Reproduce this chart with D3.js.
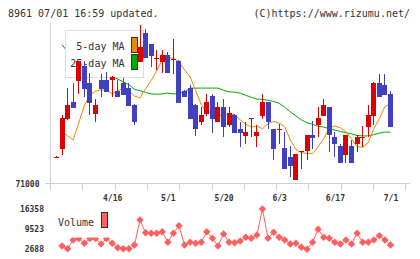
<!DOCTYPE html>
<html>
<head>
<meta charset="utf-8">
<script src="https://cdn.jsdelivr.net/npm/d3@7/dist/d3.min.js"></script>
<style>
  html, body { margin: 0; padding: 0; background: #fff; }
</style>
</head>
<body>
<div id="chart"></div>
<script>
// trading days shown on the chart
const dates = ["4/2","4/3","4/6","4/7","4/8","4/9","4/10","4/13","4/14","4/15",
  "4/16","4/17","4/20","4/21","4/22","4/23","4/24","4/27","4/28","4/30",
  "5/1","5/7","5/8","5/11","5/12","5/13","5/14","5/15","5/18","5/19",
  "5/20","5/21","5/22","5/25","5/26","5/27","5/28","5/29","6/1","6/2",
  "6/3","6/4","6/5","6/8","6/9","6/10","6/11","6/12","6/15","6/16",
  "6/17","6/18","6/19","6/22","6/23","6/24","6/25","6/26","6/29","6/30","7/1"]

const opens = [71665,71875,72625,73050,73570,73940,73525,72740,73590,73590,
  73585,73320,73510,73385,72970,74050,74775,74490,74130,74050,
  74220,74110,74070,73320,73390,72970,72550,72740,73190,72550,
  72910,72470,72720,72370,72200,72620,72200,72700,73040,72360,
  72360,71890,71675,71100,71805,71810,72210,72475,72700,72910,
  72160,71940,71725,71940,72000,72155,72420,72700,73525,73470,73240]
const highs = [71680,72720,73385,73525,74070,74075,73760,73120,73740,73790,
  73680,73580,73640,73520,72980,74975,74860,74500,74340,74340,
  74285,74620,74080,73330,73470,72980,72910,73240,73240,73035,
  73110,72910,72730,72550,72550,72630,72470,73240,73050,72370,
  72485,72285,71940,71750,71815,72215,72560,72910,73120,72920,
  72285,72000,72220,72090,72220,72440,72970,73535,73740,73740,73320]
const lows = [71660,71720,72590,72890,73240,73175,72720,72550,73170,73290,
  73175,73170,73210,72940,72470,74040,74130,73925,73840,73775,
  73770,73735,73020,73170,72620,72190,72470,72690,72275,72540,
  72160,72425,72270,71925,71990,72160,71925,72610,72360,71590,
  71990,71370,71175,71090,71375,71590,71875,72160,72690,71800,
  71660,71520,71525,71520,71800,71920,72175,72460,73170,73210,72410]
const closes = [71670,72640,72970,72900,74060,73370,73025,72970,73370,73300,
  73670,73175,73220,72950,72550,74425,74135,74200,74140,74220,
  73775,74120,73025,73175,72625,72360,72720,73040,72625,72910,
  72425,72760,72275,72275,72285,72630,72285,73040,72550,71875,
  72370,71375,71450,71740,71810,72210,72140,72640,72970,72210,
  72000,71525,72210,71525,72175,72160,72720,73525,73175,73220,72420]

// moving averages (5-day, 25-day)
const ma5 = [null,72290,72190,72090,72520,72950,73220,73305,73340,73330,
  73240,73320,73380,73320,73190,73140,73370,73570,73820,74090,
  74155,74130,74040,73840,73670,73320,72970,72790,72740,72705,
  72705,72740,72720,72590,72480,72410,72440,72370,72490,72550,
  72510,72420,72090,71855,71770,71755,71740,71920,72120,72390,
  72440,72390,72290,72120,71920,71905,72020,72370,72620,72920,73005]
const ma25 = [null,74470,74290,74170,74070,73990,73920,73840,73790,73740,
  73680,73610,73540,73470,73355,73320,73275,73240,73230,73240,
  73260,73240,73250,73290,73385,73385,73385,73385,73385,73385,
  73330,73290,73285,73260,73205,73155,73110,73105,73080,73050,
  73005,72905,72790,72690,72590,72520,72480,72430,72410,72370,
  72335,72300,72270,72240,72200,72190,72190,72220,72260,72285,72285]

const volumes = [null,3713,2791,5764,6276,4636,6276,6276,4397,6276,
  4636,3132,2791,2791,4055,12599,8258,8053,8053,8600,
  4978,8053,10651,4055,4978,4636,4978,8600,6345,3713,
  7814,4978,4841,5422,6686,6345,7473,16358,6345,8395,
  6686,5764,4397,4636,3269,2585,4978,9420,6686,6345,
  4978,4397,5764,4397,8053,4978,4978,5764,7233,5764,4055]

const dateTicks = ["4/16","5/1","5/20","6/3","6/17","7/1"]
const priceTicks = [71000]
const volumeTicks = [16358, 9523, 2688]

const upColor = "#dd0000"
const downColor = "#4040c0"
const axisColor = "#d0d0d0"
const textColor = "#333"

const width = 420
const height = 259

const svg = d3.select("#chart").append("svg")
    .attr("width", width)
    .attr("height", height)
    .style("font-family", "'DejaVu Sans Mono', monospace")

// header
svg.append("text")
  .attr("x", 8).attr("y", 16.5)
  .attr("font-size", 10).attr("fill", textColor)
  .text("8961 07/01 16:59 updated.")
svg.append("text")
  .attr("x", 410).attr("y", 16.5)
  .attr("text-anchor", "end")
  .attr("font-size", 10).attr("fill", textColor)
  .text("(C)https://www.rizumu.net/")

// scales
const x = d3.scalePoint().domain(dates).range([56.5, 390.5])
const y = d3.scaleLinear().domain([71000, 75000]).range([183.5, 23.5])
const yVol = d3.scaleLinear().domain([2688, 16358]).range([249, 209])
const px = d => Math.round(x(d) - 0.5) + 0.5

// frame
const frame = svg.append("g").attr("shape-rendering", "crispEdges")
frame.append("line")
  .attr("x1", 50.5).attr("x2", 50.5).attr("y1", 23).attr("y2", 190)
  .attr("stroke", axisColor)
frame.append("line")
  .attr("x1", 45).attr("x2", 410).attr("y1", 183.5).attr("y2", 183.5)
  .attr("stroke", axisColor)
frame.selectAll(".grid")
  .data(d3.range(1, 12))
  .join("line")
  .attr("x1", k => Math.round(50 + k * 32.3) + 0.5)
  .attr("x2", k => Math.round(50 + k * 32.3) + 0.5)
  .attr("y1", 183).attr("y2", 190)
  .attr("stroke", axisColor)

// price axis label
const yAxis = svg.append("g")
  .attr("transform", "translate(50.5,0)")
  .call(d3.axisLeft(y).tickValues(priceTicks).tickSize(0).tickPadding(11).tickFormat(d3.format("d")))
yAxis.select(".domain").remove()
yAxis.selectAll("text")
  .attr("font-family", "'DejaVu Sans Mono', monospace")
  .attr("font-size", 8).attr("font-weight", "bold").attr("fill", textColor)

// date labels
const xAxis = svg.append("g")
  .attr("transform", "translate(0,183.5)")
  .call(d3.axisBottom(x).tickValues(dateTicks).tickSize(0).tickPadding(11.5))
xAxis.select(".domain").remove()
xAxis.selectAll("text")
  .attr("font-family", "'DejaVu Sans Mono', monospace")
  .attr("font-size", 8).attr("font-weight", "bold").attr("fill", textColor)

// moving averages
const maLine = arr => d3.line()
  .defined((d, i) => arr[i] != null)
  .x(d => x(d))
  .y((d, i) => y(arr[i]))

svg.append("path")
  .attr("d", maLine(ma25)(dates))
  .attr("fill", "none").attr("stroke", "#00aa00").attr("stroke-width", 1)
svg.append("path")
  .attr("d", maLine(ma5)(dates))
  .attr("fill", "none").attr("stroke", "#ee8800").attr("stroke-width", 1)

// legend
const legend = svg.append("g").attr("shape-rendering", "crispEdges")
legend.append("rect")
  .attr("x", 65.5).attr("y", 30.5).attr("width", 78).attr("height", 47)
  .attr("fill", "#fff").attr("stroke", "#ddd")
const legendItems = [["5-day MA", "#ee8800"], ["25-day MA", "#00aa00"]]
legendItems.forEach(([label, color], i) => {
  legend.append("text")
    .attr("x", 124.5).attr("y", 50 + i * 16.5)
    .attr("text-anchor", "end")
    .attr("font-size", 10).attr("fill", textColor)
    .text(label)
  legend.append("rect")
    .attr("x", 131.5).attr("y", 37.5 + i * 17).attr("width", 6).attr("height", 15)
    .attr("fill", color).attr("stroke", "#333")
})

// candles
const candles = svg.append("g")
  .attr("shape-rendering", "crispEdges")
  .selectAll("g")
  .data(dates)
  .join("g")

candles.append("line")
  .attr("x1", d => px(d)).attr("x2", d => px(d))
  .attr("y1", (d, i) => y(highs[i]))
  .attr("y2", (d, i) => y(lows[i]))
  .attr("stroke", (d, i) => closes[i] >= opens[i] ? upColor : downColor)

candles.append("rect")
  .attr("x", d => px(d) - 2.5)
  .attr("width", 5)
  .attr("y", (d, i) => y(Math.max(opens[i], closes[i])))
  .attr("height", (d, i) => Math.max(1, Math.abs(y(opens[i]) - y(closes[i]))))
  .attr("fill", (d, i) => closes[i] >= opens[i] ? upColor : downColor)

// volume panel
const volColor = "#ff5f5f"
svg.append("path")
  .attr("d", d3.line()
    .defined((d, i) => volumes[i] != null)
    .x(d => x(d))
    .y((d, i) => yVol(volumes[i]))(dates))
  .attr("fill", "none").attr("stroke", volColor).attr("stroke-width", 1)

svg.selectAll(".vol")
  .data(dates.filter((d, i) => volumes[i] != null))
  .join("path")
  .attr("class", "vol")
  .attr("d", d3.symbol(d3.symbolSquare, 28))
  .attr("transform", d => `translate(${x(d)},${yVol(volumes[dates.indexOf(d)])}) rotate(45)`)
  .attr("fill", volColor)

// volume legend
svg.append("rect")
  .attr("x", 55).attr("y", 206).attr("width", 58).attr("height", 31.5)
  .attr("fill", "#fff")
svg.append("text")
  .attr("x", 58).attr("y", 225.5)
  .attr("font-size", 10).attr("fill", textColor)
  .text("Volume")
svg.append("rect")
  .attr("x", 101.5).attr("y", 212.5).attr("width", 6).attr("height", 15)
  .attr("fill", volColor).attr("stroke", "#333")
  .attr("shape-rendering", "crispEdges")

// volume labels
const vAxis = svg.append("g")
  .attr("transform", "translate(50,0)")
  .call(d3.axisLeft(yVol).tickValues(volumeTicks).tickSize(0).tickPadding(6).tickFormat(d3.format("d")))
vAxis.select(".domain").remove()
vAxis.selectAll("text")
  .attr("font-family", "'DejaVu Sans Mono', monospace")
  .attr("font-size", 8).attr("font-weight", "bold").attr("fill", textColor)
</script>
</body>
</html>
